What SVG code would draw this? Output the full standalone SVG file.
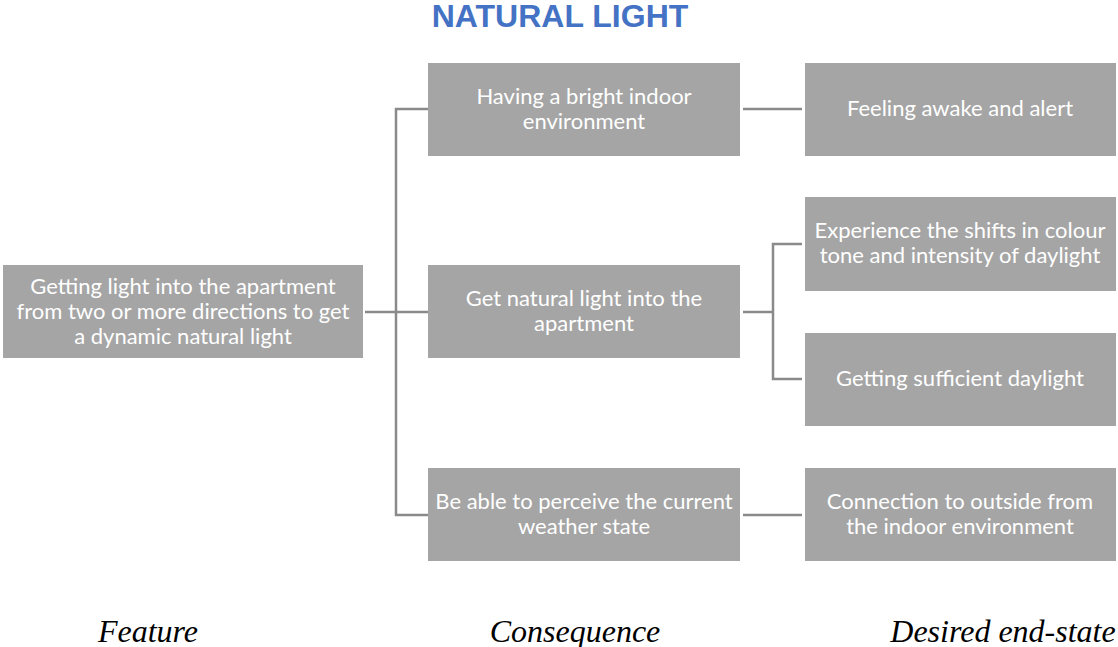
<svg xmlns="http://www.w3.org/2000/svg" width="1118" height="647" viewBox="0 0 1118 647">
  <style>
    .box { fill: #a5a5a5; }
    .lbl { font-family: Lato, "Open Sans", sans-serif; font-size: 22px; fill: #ffffff; text-anchor: middle; }
    .conn { stroke: #8a8a8a; stroke-width: 2.5; fill: none; }
    .title { font-family: "Liberation Sans", Arial, sans-serif; font-weight: bold; font-size: 32px; fill: #4472c4; text-anchor: middle; }
    .col { font-family: "Liberation Serif", "Times New Roman", serif; font-style: italic; font-size: 32px; fill: #000000; text-anchor: middle; }
  </style>

  <text class="title" x="560" y="27">NATURAL LIGHT</text>

  <g id="connectors">
    <path class="conn" d="M365 312 H428"/>
    <path class="conn" d="M428 109 H396 V515 H428"/>
    <path class="conn" d="M743 109 H802"/>
    <path class="conn" d="M743 312 H773"/>
    <path class="conn" d="M802 244 H773 V379 H802"/>
    <path class="conn" d="M743 515 H802"/>
  </g>

  <g id="feature">
    <rect class="box" x="3" y="265" width="360" height="93"/>
    <text class="lbl" x="183" y="294">Getting light into the apartment</text>
    <text class="lbl" x="183" y="319">from two or more directions to get</text>
    <text class="lbl" x="183" y="344">a dynamic natural light</text>
  </g>

  <g id="bright-indoor">
    <rect class="box" x="428" y="63" width="312" height="93"/>
    <text class="lbl" x="584" y="104">Having a bright indoor</text>
    <text class="lbl" x="584" y="129">environment</text>
  </g>

  <g id="natural-light-in">
    <rect class="box" x="428" y="265" width="312" height="93"/>
    <text class="lbl" x="584" y="306">Get natural light into the</text>
    <text class="lbl" x="584" y="331">apartment</text>
  </g>

  <g id="weather-state">
    <rect class="box" x="428" y="468" width="312" height="93"/>
    <text class="lbl" x="584" y="509">Be able to perceive the current</text>
    <text class="lbl" x="584" y="534">weather state</text>
  </g>

  <g id="awake-alert">
    <rect class="box" x="805" y="63" width="311" height="93"/>
    <text class="lbl" x="960" y="116">Feeling awake and alert</text>
  </g>

  <g id="colour-shifts">
    <rect class="box" x="805" y="197" width="311" height="94"/>
    <text class="lbl" x="960" y="238">Experience the shifts in colour</text>
    <text class="lbl" x="960" y="263">tone and intensity of daylight</text>
  </g>

  <g id="sufficient-daylight">
    <rect class="box" x="805" y="333" width="311" height="93"/>
    <text class="lbl" x="960" y="386">Getting sufficient daylight</text>
  </g>

  <g id="outside-connection">
    <rect class="box" x="805" y="468" width="311" height="93"/>
    <text class="lbl" x="960" y="509">Connection to outside from</text>
    <text class="lbl" x="960" y="534">the indoor environment</text>
  </g>

  <text class="col" x="148" y="642">Feature</text>
  <text class="col" x="575" y="642">Consequence</text>
  <text class="col" x="1003" y="642">Desired end-state</text>
</svg>
